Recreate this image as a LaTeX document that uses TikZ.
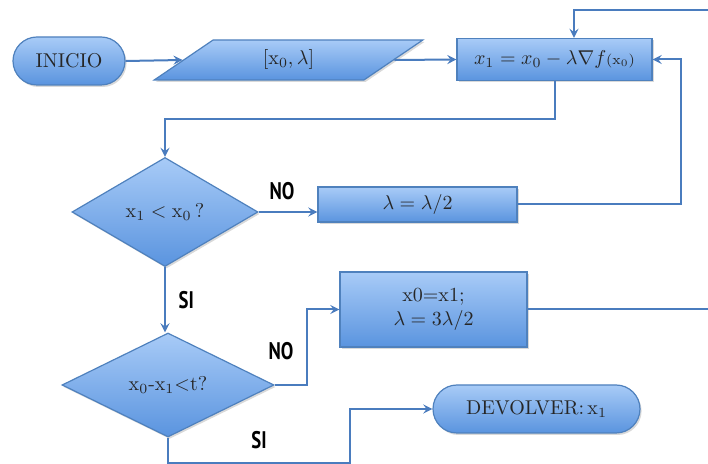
\documentclass[tikz,border=0pt]{standalone}
\usepackage{fontspec}
\newfontfamily\rotulofont[FakeStretch=0.78]{PT Sans}
\usetikzlibrary{shapes.geometric, shapes.misc, shadows, calc}
\definecolor{azulclaro}{HTML}{A8CBF7}
\definecolor{azuloscuro}{HTML}{5A94DF}
\definecolor{borde}{HTML}{4F81BD}
\definecolor{azullinea}{HTML}{4A7CBE}

\begin{document}
\begin{tikzpicture}[
		x=0.5pt, y=-0.5pt,
		base/.style={
			draw=borde,
			line width=0.6pt,
			top color=azulclaro,
			bottom color=azuloscuro,
			drop shadow={opacity=0.3, shadow xshift=0.8pt, shadow yshift=-1pt},
			align=center,
			inner sep=0pt,
			text=black!85
		},
		caja/.style={base, rectangle},
		terminal/.style={base, rounded rectangle},
		rombo/.style={base, diamond, aspect=1.8},
		datosent/.style={
			base,
			trapezium,
			trapezium left angle=45,
			trapezium right angle=135,
			trapezium stretches=true
		},
		flecha/.style={->, >=stealth, line width=1pt, color=azullinea},
		tramo/.style={-, line width=1pt, color=azullinea},
		rotulo/.style={font=\rotulofont\bfseries\large, text=black}
		]
		
		\useasboundingbox (0,0) rectangle (708,464);
		
		\node[terminal, minimum width=56pt, minimum height=24pt] (inicio) at (69,61) {INICIO};
		\node[datosent, minimum width=134.5pt, minimum height=20pt] (datos) at (288.5,60) {$[\mathrm{x}_0,\lambda]$};
		\node[caja, minimum width=97.5pt, minimum height=21pt] (paso) at (554.5,59.5) {$x_1 = x_0 - \lambda\nabla f{\scriptstyle(\mathrm{x}_0)}$};
		
		\node[rombo, minimum width=93pt, minimum height=54.5pt] (cond1) at (165,212) {$\mathrm{x}_1 < \mathrm{x}_0$\,?};
		\node[caja, minimum width=99.5pt, minimum height=17.5pt] (mitad) at (417.5,204.5) {$\lambda = \lambda/2$};
		
		\node[rombo, minimum width=106pt, minimum height=52pt] (cond2) at (168,385) {x$_0$-x$_1$<t?};
		\node[caja, minimum width=93.5pt, minimum height=37.5pt] (aumento) at (433.5,309.5) {x0=x1;\\ $\lambda = 3\lambda/2$};
		\node[terminal, minimum width=103.5pt, minimum height=24pt] (fin) at (536.5,409) {DEVOLVER:\,x$_1$};
		
		\coordinate (entrada) at (708,10);
		\coordinate (salida) at (708,305);
		\coordinate (abajo) at (350,463);
		
		%Lineas
		\draw[flecha] (inicio.east) -- (datos.west);
		\draw[flecha] (datos.east) -- (paso.west);
		\draw[flecha] (entrada) -| ($(paso.north)+(19.5,0)$);
		
		\draw[flecha] (paso.south) -- ++(0,38) -| (cond1.north);
		\draw[flecha] (cond1.east) -- (cond1.east -| mitad.west) node[rotulo, pos=0.4, above=2pt] {NO};
		\draw[flecha] (mitad.east) -- ++(163,0) |- (paso.east);
		
		\draw[flecha] (cond1.south) -- (cond1.south |- cond2.north) node[rotulo, midway, right=3pt] {SI};
		
		\draw[flecha] (cond2.east) -- ++(32,0) node[rotulo, pos=0.2, above=8.5pt] {NO} |- (aumento.west);
		\draw[tramo] (aumento.east) -- (aumento.east -| salida);
		
		\draw[flecha] (cond2.south) |- (abajo) node[rotulo, pos=0.75, above=3pt] {SI} |- (fin.west);
		
	\end{tikzpicture}
\end{document}
